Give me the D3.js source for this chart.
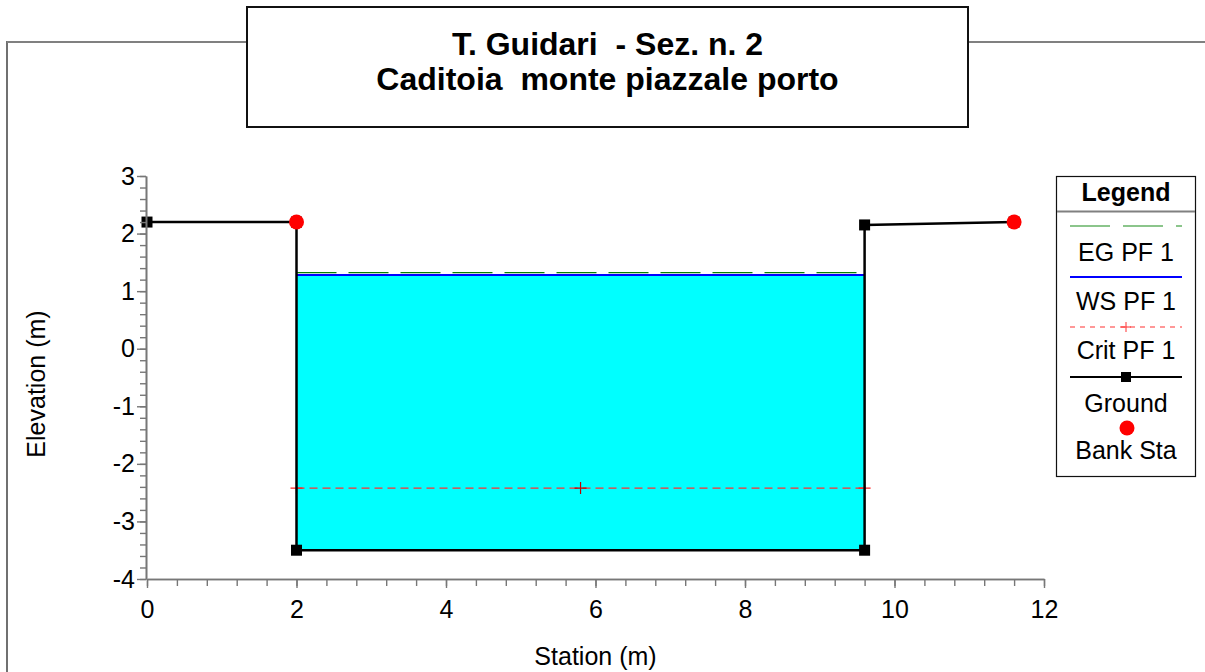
<!DOCTYPE html>
<html><head><meta charset="utf-8">
<script src="https://cdn.jsdelivr.net/npm/d3@7"></script>
<style>
html,body{margin:0;padding:0;background:#fff;}
svg{display:block;font-family:"Liberation Sans",Arial,sans-serif;}
</style></head>
<body>
<svg id="chart" width="1205" height="672"></svg>
<script>
// ---- data ----
const titleLines = ["T. Guidari  - Sez. n. 2", "Caditoia  monte piazzale porto"];
const groundStation = [0, 2, 2, 9.6, 9.6, 11.6];
const groundElev = [2.2, 2.2, -3.5, -3.5, 2.15, 2.2];
const bankStation = [2, 11.6];
const bankElev = [2.2, 2.2];
const wsElev = 1.28;
const egElev = 1.32;
const critElev = -2.42;
const channelStations = [2, 9.6];
const xMajorTicks = [0, 2, 4, 6, 8, 10, 12];
const yMajorTicks = [-4, -3, -2, -1, 0, 1, 2, 3];
const legendLabels = ["EG PF 1", "WS PF 1", "Crit PF 1", "Ground", "Bank Sta"];

const svg = d3.select("#chart");
const x = d3.scaleLinear().domain([0, 12]).range([147, 1044]);
const y = d3.scaleLinear().domain([-4, 3]).range([579, 176]);

// outer frame
svg.append("line").attr("x1", 7).attr("x2", 7).attr("y1", 41).attr("y2", 672)
  .attr("stroke", "#111").attr("stroke-width", 1.2);
svg.append("line").attr("x1", 7).attr("x2", 1205).attr("y1", 42).attr("y2", 42)
  .attr("stroke", "#808080").attr("stroke-width", 2);

// title box
svg.append("rect").attr("x", 247).attr("y", 7).attr("width", 721).attr("height", 120)
  .attr("fill", "#fff").attr("stroke", "#111").attr("stroke-width", 2);
svg.append("text").attr("x", 607.5).attr("y", 55).attr("text-anchor", "middle")
  .attr("font-size", 32).attr("font-weight", "bold").style("white-space", "pre").text(titleLines[0]);
svg.append("text").attr("x", 607.5).attr("y", 90).attr("text-anchor", "middle")
  .attr("font-size", 32).attr("font-weight", "bold").style("white-space", "pre").text(titleLines[1]);

// water fill
const waterPts = [
  [channelStations[0], wsElev],
  [channelStations[1], wsElev],
  [groundStation[3], groundElev[3]],
  [groundStation[2], groundElev[2]]
];
svg.append("path").attr("d", d3.line().x(d => x(d[0])).y(d => y(d[1]))(waterPts) + "Z")
  .attr("fill", "#00ffff");

// crit line
svg.append("line").attr("x1", x(channelStations[0])).attr("x2", x(channelStations[1]))
  .attr("y1", y(critElev)).attr("y2", y(critElev))
  .attr("stroke", "#ff3030").attr("stroke-width", 1.2).attr("stroke-dasharray", "8,5");
const critMarks = [channelStations[0], (channelStations[0] + channelStations[1]) / 2, channelStations[1]];
critMarks.forEach((s, i) => {
  const cx = x(s), cy = y(critElev);
  const col = i === 1 ? "#c00000" : "#ff2020";
  svg.append("path").attr("d", `M${cx - 6},${cy}H${cx + 6}M${cx},${cy - 6}V${cy + 6}`)
    .attr("stroke", col).attr("stroke-width", 1.2);
});

// EG line
svg.append("line").attr("x1", x(channelStations[0])).attr("x2", x(channelStations[1]))
  .attr("y1", y(egElev)).attr("y2", y(egElev))
  .attr("stroke", "#008000").attr("stroke-width", 1.2).attr("stroke-dasharray", "40,12");
// WS line
svg.append("line").attr("x1", x(channelStations[0])).attr("x2", x(channelStations[1]))
  .attr("y1", y(wsElev)).attr("y2", y(wsElev))
  .attr("stroke", "#0000ff").attr("stroke-width", 2);

// ground
const groundPts = groundStation.map((s, i) => [s, groundElev[i]]);
svg.append("path").attr("d", d3.line().x(d => x(d[0])).y(d => y(d[1]))(groundPts))
  .attr("fill", "none").attr("stroke", "#000").attr("stroke-width", 2.5);
svg.selectAll("rect.gp").data(groundPts).enter().append("rect")
  .attr("x", d => x(d[0]) - 5.5).attr("y", d => y(d[1]) - 5.5)
  .attr("width", 11).attr("height", 11).attr("fill", "#000");
svg.selectAll("circle.bank").data(bankStation).enter().append("circle")
  .attr("cx", d => x(d)).attr("cy", (d, i) => y(bankElev[i])).attr("r", 7.5).attr("fill", "#ff0000");

// axes
const axisColor = "#777";
const yMinor = d3.range(-4, 3.001, 0.2).map(v => +v.toFixed(2));
const xMinor = d3.range(0, 12.001, 0.4).map(v => +v.toFixed(2));
const fmt = d => String(d);

const gy = svg.append("g").attr("transform", `translate(146,0)`)
  .call(d3.axisLeft(y).tickValues(yMinor).tickSize(6).tickFormat("").tickSizeOuter(0));
const gyM = svg.append("g").attr("transform", `translate(146,0)`)
  .call(d3.axisLeft(y).tickValues(yMajorTicks).tickSize(9).tickPadding(2).tickSizeOuter(0).tickFormat(fmt));
const gx = svg.append("g").attr("transform", `translate(0,579)`)
  .call(d3.axisBottom(x).tickValues(xMinor).tickSize(7).tickFormat("").tickSizeOuter(0));
const gxM = svg.append("g").attr("transform", `translate(0,579)`)
  .call(d3.axisBottom(x).tickValues(xMajorTicks).tickSize(9).tickPadding(12).tickSizeOuter(0).tickFormat(fmt));
[gy, gyM, gx, gxM].forEach(g => {
  g.selectAll("path.domain").attr("stroke", axisColor).attr("stroke-width", 1.6);
  g.selectAll(".tick line").attr("stroke", axisColor).attr("stroke-width", 1.4);
  g.selectAll("text").attr("fill", "#000").attr("font-size", 25)
    .attr("font-family", "'Liberation Sans',Arial,sans-serif");
});
gxM.selectAll("text").attr("dy", "0.71em");

// axis titles
svg.append("text").attr("x", 595.5).attr("y", 665).attr("text-anchor", "middle")
  .attr("font-size", 25).text("Station (m)");
svg.append("text").attr("transform", "translate(45,384) rotate(-90)").attr("text-anchor", "middle")
  .attr("font-size", 25).text("Elevation (m)");

// legend
const lg = svg.append("g");
lg.append("rect").attr("x", 1056.5).attr("y", 176.5).attr("width", 139).attr("height", 300)
  .attr("fill", "#fff").attr("stroke", "#111").attr("stroke-width", 1.2);
lg.append("text").attr("x", 1126).attr("y", 201).attr("text-anchor", "middle")
  .attr("font-size", 25).attr("font-weight", "bold").text("Legend");
lg.append("line").attr("x1", 1057).attr("x2", 1195).attr("y1", 211.5).attr("y2", 211.5)
  .attr("stroke", "#808080").attr("stroke-width", 2);
// EG sample
lg.append("line").attr("x1", 1070).attr("x2", 1182).attr("y1", 226).attr("y2", 226)
  .attr("stroke", "#66b366").attr("stroke-width", 1.5).attr("stroke-dasharray", "40,13");
// WS sample
lg.append("line").attr("x1", 1070).attr("x2", 1182).attr("y1", 277).attr("y2", 277)
  .attr("stroke", "#0000ff").attr("stroke-width", 2);
// Crit sample
lg.append("line").attr("x1", 1070).attr("x2", 1182).attr("y1", 327).attr("y2", 327)
  .attr("stroke", "#ff3030").attr("stroke-width", 1).attr("stroke-dasharray", "5,5");
lg.append("path").attr("d", "M1121,327H1131M1126,322V332").attr("stroke", "#ff3030").attr("stroke-width", 1);
// Ground sample
lg.append("line").attr("x1", 1070).attr("x2", 1182).attr("y1", 377).attr("y2", 377)
  .attr("stroke", "#000").attr("stroke-width", 2);
lg.append("rect").attr("x", 1121).attr("y", 372).attr("width", 10).attr("height", 10).attr("fill", "#000");
// Bank sample
lg.append("circle").attr("cx", 1127).attr("cy", 428).attr("r", 7.5).attr("fill", "#ff0000");
const legendY = [261, 310, 359, 412, 459];
legendLabels.forEach((t, i) => {
  lg.append("text").attr("x", 1126).attr("y", legendY[i]).attr("text-anchor", "middle")
    .attr("font-size", 25).text(t);
});
</script>
</body></html>
